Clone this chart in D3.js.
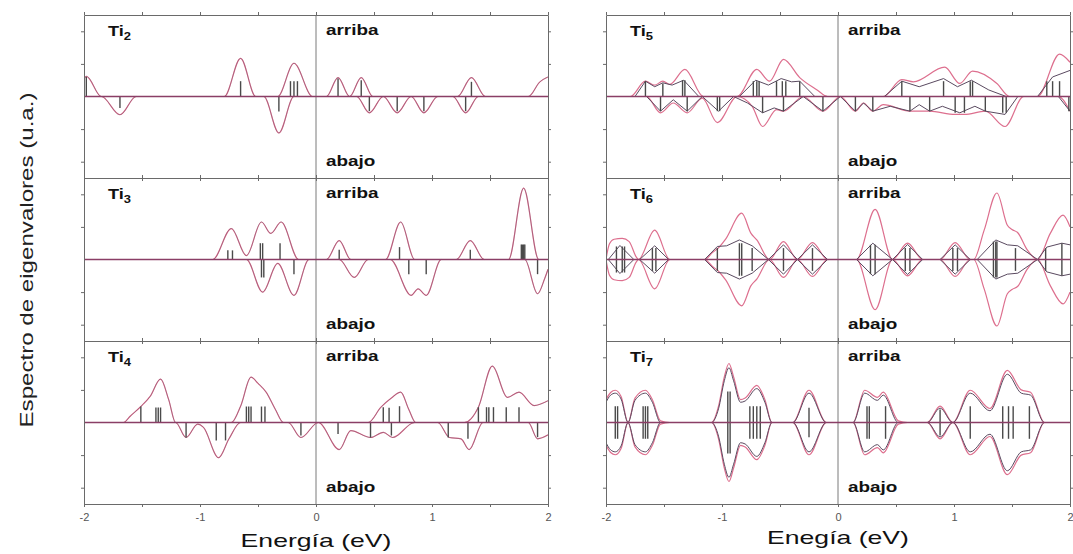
<!DOCTYPE html>
<html lang="es">
<head>
<meta charset="utf-8">
<script src="https://cdn.jsdelivr.net/npm/d3@7"></script>
<style>
  body{margin:0;background:#fff;}
  svg{display:block;font-family:"Liberation Sans",Arial,sans-serif;}
</style>
</head>
<body>
<svg id="chart" width="1073" height="554"></svg>
<script>
/* Espectro de eigenvalores de Ti_n: palitos = eigenvalores, curvas = espectro ensanchado.
   Los valores "abajo" se guardan positivos y se dibujan hacia abajo. */

const xTicks = [-2, -1.5, -1, -0.5, 0, 0.5, 1, 1.5, 2];
const xLabels = [-2, -1, 0, 1, 2];
const yTicks = [-2, -1, 1, 2];

// ---- Ti2 ----
const ti2UpSticks = [[-1.98,0.6],[-0.65,0.47],[-0.22,0.47],[-0.19,0.47],[-0.16,0.47],[0.19,0.55],[0.39,0.5],[1.34,0.45]];
const ti2DownSticks = [[-1.69,0.35],[-0.32,0.46],[0.46,0.45],[0.7,0.45],[0.93,0.45],[1.29,0.45]];
const ti2UpCurve = [[-2,0.55],[-1.98,0.62],[-1.85,0],[-0.79,0],[-0.65,1.17],[-0.52,0],[-0.33,0],[-0.19,1.02],[-0.03,0],
  [0.09,0],[0.19,0.58],[0.29,0],[0.39,0.58],[0.49,0],[1.22,0],[1.34,0.58],[1.46,0],[1.83,0],[1.93,0.45],[2,0.6]];
const ti2DownCurve = [[-2,0],[-1.85,0],[-1.69,0.56],[-1.55,0],[-0.45,0],[-0.32,1.12],[-0.19,0],[0.35,0],[0.46,0.5],[0.58,0],
  [0.7,0.5],[0.82,0],[0.93,0.5],[1.05,0],[1.18,0],[1.29,0.5],[1.4,0],[2,0]];

// ---- Ti3 ----
const ti3UpSticks = [[-0.76,0.28],[-0.72,0.28],[-0.48,0.5],[-0.46,0.5],[-0.31,0.5],[0.2,0.3],[0.72,0.38],[1.33,0.3],
  [1.77,0.46],[1.78,0.46],[1.79,0.46],[1.8,0.46]];
const ti3DownSticks = [[-0.47,0.55],[-0.45,0.55],[-0.19,0.45],[0.8,0.45],[0.95,0.45],[1.91,0.45]];
const ti3UpCurve = [[-2,0],[-0.89,0],[-0.73,0.95],[-0.6,0.12],[-0.47,1.15],[-0.39,0.8],[-0.3,1.15],[-0.15,0],[0.09,0],
  [0.2,0.58],[0.3,0],[0.6,0],[0.73,1.15],[0.85,0],[1.21,0],[1.33,0.58],[1.45,0],[1.66,0],[1.79,2.19],[1.92,0],[2,0]];
const ti3DownCurve = [[-2,0],[-0.6,0],[-0.46,1.0],[-0.33,0.12],[-0.19,1.1],[-0.06,0],[0.2,0],[0.33,0.55],[0.45,0],[0.64,0],
  [0.82,1.1],[0.88,0.9],[0.95,1.1],[1.08,0],[1.8,0],[1.91,1.05],[1.97,0.6],[2,0.3]];

// ---- Ti4 ----
const ti4UpSticks = [[-1.51,0.49],[-1.38,0.46],[-1.36,0.46],[-1.34,0.46],[-0.6,0.49],[-0.58,0.49],[-0.56,0.49],[-0.47,0.49],
  [-0.44,0.49],[0.58,0.47],[0.63,0.45],[0.72,0.5],[1.4,0.47],[1.47,0.47],[1.49,0.47],[1.53,0.47],[1.64,0.47],[1.75,0.47]];
const ti4DownSticks = [[-1.12,0.46],[-0.86,0.55],[-0.78,0.55],[-0.13,0.4],[0.19,0.35],[0.47,0.46],[0.65,0.4],[1.14,0.46],
  [1.31,0.5],[1.91,0.45]];
const ti4UpCurve = [[-2,0],[-1.66,0],[-1.6,0.2],[-1.51,0.49],[-1.43,0.8],[-1.34,1.33],[-1.27,0.7],[-1.21,0],[-0.73,0],
  [-0.65,0.5],[-0.56,1.39],[-0.5,1.2],[-0.43,0.93],[-0.35,0.4],[-0.28,0],[0.45,0],[0.56,0.47],[0.65,0.75],[0.73,0.93],
  [0.8,0.4],[0.86,0],[1.28,0],[1.4,0.47],[1.52,1.73],[1.65,0.77],[1.75,0.93],[1.88,0.52],[2,0.67]];
const ti4DownCurve = [[-2,0],[-1.21,0],[-1.12,0.46],[-1.02,0.05],[-0.97,0.15],[-0.84,1.08],[-0.75,0.5],[-0.65,0],[-0.24,0],
  [-0.13,0.46],[0.02,0],[0.2,0.83],[0.3,0.25],[0.47,0.46],[0.58,0.3],[0.66,0.46],[0.85,0],[1.05,0],[1.15,0.46],[1.25,0.5],
  [1.32,0.83],[1.44,0],[1.83,0],[1.91,0.5],[2,0.38]];

// ---- Ti5 ----
const ti5UpSticks = [[-1.66,0.47],[-1.51,0.4],[-1.34,0.5],[-1.32,0.5],[-0.73,0.47],[-0.7,0.47],[-0.68,0.47],[-0.53,0.47],
  [-0.48,0.47],[-0.45,0.47],[-0.33,0.47],[0.55,0.47],[0.91,0.47],[1.14,0.47],[1.16,0.47],[1.8,0.47],[1.85,0.47],[1.91,0.47]];
const ti5DownSticks = [[-1.53,0.45],[-1.3,0.45],[-1.04,0.45],[-1.02,0.45],[-0.65,0.5],[-0.47,0.45],[-0.13,0.45],[0.15,0.45],
  [0.3,0.45],[0.62,0.45],[0.79,0.45],[1.01,0.5],[1.09,0.5],[1.27,0.45],[1.42,0.5],[1.45,0.5],[1.99,0.45]];
const ti5UpCurve = [[-2,0],[-1.79,0],[-1.66,0.47],[-1.58,0.35],[-1.51,0.47],[-1.45,0.37],[-1.32,0.83],[-1.16,0],[-0.87,0],
  [-0.7,0.83],[-0.59,0.47],[-0.47,1.14],[-0.33,0.58],[-0.18,0.2],[-0.09,0],[0.39,0],[0.55,0.52],[0.65,0.45],[0.92,0.9],
  [1.05,0.4],[1.16,0.78],[1.37,0.4],[1.48,0],[1.72,0],[1.91,1.3],[2,1.05]];
const ti5DownCurve = [[-2,0],[-1.65,0],[-1.53,0.5],[-1.42,0.2],[-1.3,0.5],[-1.17,0.05],[-1.04,0.8],[-0.87,0],[-0.74,0.3],
  [-0.65,0.92],[-0.53,0.4],[-0.47,0.45],[-0.3,0],[-0.13,0.45],[0.02,0],[0.15,0.45],[0.22,0.2],[0.3,0.45],[0.39,0.25],
  [0.62,0.45],[0.79,0.45],[1.01,0.55],[1.09,0.55],[1.27,0.45],[1.44,0.92],[1.6,0],[1.9,0],[2,0.45]];
const ti5UpDark = [[-2,0],[-1.75,0],[-1.66,0.47],[-1.58,0.3],[-1.51,0.42],[-1.43,0.35],[-1.33,0.5],[-1.2,0],[-0.85,0],
  [-0.71,0.5],[-0.6,0.35],[-0.49,0.55],[-0.4,0.45],[-0.33,0.47],[-0.2,0],[0.4,0],[0.55,0.47],[0.7,0.3],[0.91,0.55],
  [1.03,0.3],[1.15,0.5],[1.3,0.2],[1.45,0],[1.72,0],[1.85,0.6],[2,0.8]];
const ti5DownDark = [[-2,0],[-1.65,0],[-1.53,0.45],[-1.42,0.1],[-1.3,0.45],[-1.17,0],[-1.03,0.45],[-0.9,0],[-0.78,0.2],
  [-0.65,0.5],[-0.55,0.35],[-0.47,0.45],[-0.3,0],[-0.13,0.45],[0.02,0],[0.15,0.45],[0.22,0.2],[0.3,0.45],[0.45,0.3],
  [0.62,0.45],[0.7,0.25],[0.79,0.45],[0.9,0.3],[1.05,0.5],[1.18,0.3],[1.27,0.45],[1.44,0.55],[1.55,0],[1.9,0],[2,0.45]];

// ---- Ti6 (simétrico: arriba = abajo) ----
const ti6Sticks = [[-1.91,0.4],[-1.86,0.4],[-1.84,0.4],[-1.6,0.35],[-1.57,0.35],[-1.04,0.35],[-0.85,0.5],[-0.83,0.5],
  [-0.74,0.35],[-0.47,0.35],[-0.22,0.35],[0.28,0.45],[0.32,0.45],[0.58,0.35],[0.62,0.35],[0.99,0.35],[1.03,0.35],
  [1.34,0.55],[1.36,0.55],[1.37,0.55],[1.53,0.35],[1.79,0.35],[1.93,0.5]];
const ti6Curve = [[-2,0],[-1.99,0.2],[-1.97,0.48],[-1.93,0.62],[-1.86,0.65],[-1.8,0.55],[-1.74,0.08],[-1.72,0],[-1.58,0.9],
  [-1.45,0],[-1.15,0],[-1.08,0.22],[-1.03,0.36],[-0.97,0.62],[-0.83,1.42],[-0.75,0.8],[-0.7,0.6],[-0.59,0],[-0.47,0.55],
  [-0.35,0],[-0.22,0.52],[-0.09,0],[0.16,0],[0.32,1.54],[0.47,0],[0.6,0.5],[0.73,0],[0.88,0],[1.01,0.52],[1.14,0],[1.17,0],
  [1.26,0.9],[1.37,2.04],[1.46,1.05],[1.5,0.92],[1.55,0.82],[1.63,0.3],[1.72,0],[1.83,0.8],[1.94,1.36],[2,1.0]];
const ti6Dark = [[-2,0],[-1.98,0],[-1.88,0.43],[-1.76,0],[-1.71,0],[-1.58,0.42],[-1.46,0],[-1.15,0],[-1.04,0.4],[-0.96,0.42],
  [-0.85,0.6],[-0.74,0.42],[-0.6,0],[-0.47,0.45],[-0.35,0],[-0.22,0.45],[-0.09,0],[0.16,0],[0.3,0.5],[0.47,0],[0.6,0.46],
  [0.73,0],[0.88,0],[1.01,0.45],[1.14,0],[1.2,0],[1.36,0.6],[1.46,0.45],[1.55,0.42],[1.72,0],[1.8,0.38],[1.93,0.5],[2,0.45]];

// ---- Ti7 (simétrico) ----
const ti7Sticks = [[-1.92,0.5],[-1.9,0.5],[-1.68,0.5],[-1.66,0.5],[-1.64,0.5],[-0.95,0.95],[-0.93,0.95],[-0.76,0.5],
  [-0.73,0.5],[-0.7,0.5],[-0.67,0.5],[-0.25,0.45],[0.25,0.5],[0.27,0.5],[0.41,0.5],[0.88,0.4],[1.14,0.5],[1.42,0.5],
  [1.47,0.5],[1.51,0.5],[1.65,0.5]];
const ti7Curve = [[-2,0.7],[-1.96,0.92],[-1.92,0.99],[-1.87,0.8],[-1.81,0],[-1.75,0.75],[-1.66,0.99],[-1.6,0.7],[-1.53,0.05],
  [-1.45,0],[-1.09,0],[-1.03,0.5],[-0.98,1.4],[-0.94,1.81],[-0.9,1.4],[-0.84,0.7],[-0.8,0.75],[-0.7,1.14],[-0.63,0.7],
  [-0.57,0],[-0.39,0],[-0.25,0.99],[-0.1,0],[0.13,0],[0.23,0.99],[0.34,0.77],[0.39,0.93],[0.52,0.05],[0.6,0],[0.77,0],
  [0.88,0.5],[0.99,0],[1.14,0.99],[1.31,0.43],[1.46,1.6],[1.58,1.0],[1.66,0.93],[1.78,0],[2,0]];
const ti7Dark = [[-2,0.62],[-1.96,0.84],[-1.92,0.9],[-1.87,0.72],[-1.81,0],[-1.75,0.68],[-1.66,0.9],[-1.6,0.62],[-1.53,0],
  [-1.09,0],[-1.03,0.42],[-0.98,1.28],[-0.94,1.68],[-0.9,1.28],[-0.84,0.62],[-0.8,0.66],[-0.7,1.04],[-0.63,0.62],[-0.57,0],
  [-0.39,0],[-0.25,0.9],[-0.1,0],[0.13,0],[0.23,0.9],[0.34,0.68],[0.39,0.84],[0.52,0],[0.77,0],[0.88,0.44],[0.99,0],
  [1.14,0.9],[1.31,0.36],[1.46,1.48],[1.58,0.9],[1.66,0.84],[1.78,0],[2,0]];

const panels = [
  {n:"2", col:0, row:0, upSticks:ti2UpSticks, downSticks:ti2DownSticks, upCurve:ti2UpCurve, downCurve:ti2DownCurve},
  {n:"3", col:0, row:1, upSticks:ti3UpSticks, downSticks:ti3DownSticks, upCurve:ti3UpCurve, downCurve:ti3DownCurve},
  {n:"4", col:0, row:2, upSticks:ti4UpSticks, downSticks:ti4DownSticks, upCurve:ti4UpCurve, downCurve:ti4DownCurve},
  {n:"5", col:1, row:0, upSticks:ti5UpSticks, downSticks:ti5DownSticks, upCurve:ti5UpCurve, downCurve:ti5DownCurve,
    upDark:ti5UpDark, downDark:ti5DownDark, darkSmooth:false},
  {n:"6", col:1, row:1, upSticks:ti6Sticks, downSticks:ti6Sticks, upCurve:ti6Curve, downCurve:ti6Curve,
    upDark:ti6Dark, downDark:ti6Dark, darkSmooth:false},
  {n:"7", col:1, row:2, upSticks:ti7Sticks, downSticks:ti7Sticks, upCurve:ti7Curve, downCurve:ti7Curve,
    upDark:ti7Dark, downDark:ti7Dark, darkSmooth:true}
];

const cols = [[84, 548], [606, 1070]];
const rowTop = [15, 178, 341];
const rowH = 163;

const PINK = "#dd6f8e", DARK = "#5a4a60", FRAME = "#6a6a6a", STICK = "#4a4a4a";

const svg = d3.select("#chart");

/* texto estirado a lo ancho, como en la figura original */
function wideText(parent, x, y, str, size, sx, weight){
  return parent.append("text")
    .attr("transform", `translate(${x},${y}) scale(${sx},1)`)
    .attr("font-size", size)
    .attr("font-weight", weight || "normal")
    .attr("fill", "#111")
    .text(str);
}

panels.forEach((p, i) => {
  const [x0, x1] = cols[p.col];
  const top = rowTop[p.row], bottom = top + rowH;
  const x = d3.scaleLinear().domain([-2, 2]).range([x0, x1]);
  const y = d3.scaleLinear().domain([-2.5, 2.5]).range([bottom, top]);
  const g = svg.append("g");

  g.append("clipPath").attr("id", "clip" + i)
    .append("rect").attr("x", x0).attr("y", top).attr("width", x1 - x0).attr("height", rowH);
  const plot = g.append("g").attr("clip-path", `url(#clip${i})`);

  // línea vertical en E = 0
  plot.append("line")
    .attr("x1", x(0)).attr("x2", x(0)).attr("y1", top).attr("y2", bottom)
    .attr("stroke", "#7a7a7a").attr("stroke-width", 1);

  const smooth = sign => d3.line().x(d => x(d[0])).y(d => y(sign * d[1])).curve(d3.curveMonotoneX);
  const sharp = sign => d3.line().x(d => x(d[0])).y(d => y(sign * d[1]));

  // curvas ensanchadas (rosa) y envolvente fina (oscura)
  plot.append("path").attr("d", smooth(1)(p.upCurve))
    .attr("fill", "none").attr("stroke", PINK).attr("stroke-width", 1.2);
  plot.append("path").attr("d", smooth(-1)(p.downCurve))
    .attr("fill", "none").attr("stroke", PINK).attr("stroke-width", 1.2);
  if(p.upDark){
    const dl = p.darkSmooth ? smooth : sharp;
    plot.append("path").attr("d", dl(1)(p.upDark))
      .attr("fill", "none").attr("stroke", DARK).attr("stroke-width", 1);
    plot.append("path").attr("d", dl(-1)(p.downDark))
      .attr("fill", "none").attr("stroke", DARK).attr("stroke-width", 1);
  } else {
    plot.append("path").attr("d", smooth(1)(p.upCurve))
      .attr("fill", "none").attr("stroke", DARK).attr("stroke-width", 0.6).attr("stroke-opacity", 0.6);
    plot.append("path").attr("d", smooth(-1)(p.downCurve))
      .attr("fill", "none").attr("stroke", DARK).attr("stroke-width", 0.6).attr("stroke-opacity", 0.6);
  }

  // eigenvalores
  plot.selectAll("line.up").data(p.upSticks).enter().append("line").attr("class", "up")
    .attr("x1", d => x(d[0])).attr("x2", d => x(d[0]))
    .attr("y1", y(0)).attr("y2", d => y(d[1]))
    .attr("stroke", STICK).attr("stroke-width", 1.4);
  plot.selectAll("line.dn").data(p.downSticks).enter().append("line").attr("class", "dn")
    .attr("x1", d => x(d[0])).attr("x2", d => x(d[0]))
    .attr("y1", y(0)).attr("y2", d => y(-d[1]))
    .attr("stroke", STICK).attr("stroke-width", 1.4);

  // línea base
  plot.append("line")
    .attr("x1", x0).attr("x2", x1).attr("y1", y(0)).attr("y2", y(0))
    .attr("stroke", "#8a3e66").attr("stroke-width", 1.3);

  // marco y marcas
  const axes = [
    g.append("g").attr("transform", `translate(0,${bottom})`).call(d3.axisBottom(x).tickValues(xTicks).tickSize(3).tickSizeOuter(0).tickFormat("")),
    g.append("g").attr("transform", `translate(0,${top})`).call(d3.axisTop(x).tickValues(xTicks).tickSize(3).tickSizeOuter(0).tickFormat("")),
    g.append("g").attr("transform", `translate(${x0},0)`).call(d3.axisLeft(y).tickValues(yTicks).tickSize(3).tickSizeOuter(0).tickFormat("")),
    g.append("g").attr("transform", `translate(${x1},0)`).call(d3.axisRight(y).tickValues(yTicks).tickSize(3).tickSizeOuter(0).tickFormat(""))
  ];
  axes.forEach(a => {
    a.selectAll("path,line").attr("stroke", FRAME);
  });

  if(p.row === 2){
    const lab = g.append("g").attr("transform", `translate(0,${bottom})`)
      .call(d3.axisBottom(x).tickValues(xLabels).tickSize(0).tickPadding(9).tickFormat(d => String(d)));
    lab.select(".domain").remove();
    lab.selectAll("text").attr("font-size", 11).attr("fill", "#555")
      .attr("font-family", "'Liberation Sans',Arial,sans-serif");
  }

  // rótulos
  const t = g.append("text")
    .attr("transform", `translate(${x0 + 24},${top + 21}) scale(1.3,1)`)
    .attr("font-size", 14).attr("font-weight", "bold").attr("fill", "#111");
  t.append("tspan").text("Ti");
  t.append("tspan").attr("dy", 4).attr("font-size", 10).text(p.n);

  wideText(g, x(0) + 10, top + 20, "arriba", 14, 1.35, "bold");
  wideText(g, x(0) + 10, top + 151, "abajo", 14, 1.35, "bold");
});

// títulos de ejes
wideText(svg, 0, 547, "Energía (eV)", 19, 1.4).attr("text-anchor", "middle")
  .attr("transform", "translate(316,547) scale(1.4,1)");
wideText(svg, 0, 544, "Enegía (eV)", 19, 1.4).attr("text-anchor", "middle")
  .attr("transform", "translate(838,544) scale(1.4,1)");

svg.append("text")
  .attr("transform", "translate(33,260) rotate(-90)")
  .attr("text-anchor", "middle")
  .attr("font-size", 18)
  .attr("fill", "#222")
  .attr("textLength", 335).attr("lengthAdjust", "spacingAndGlyphs")
  .text("Espectro de eigenvalores (u.a.)");
</script>
</body>
</html>
